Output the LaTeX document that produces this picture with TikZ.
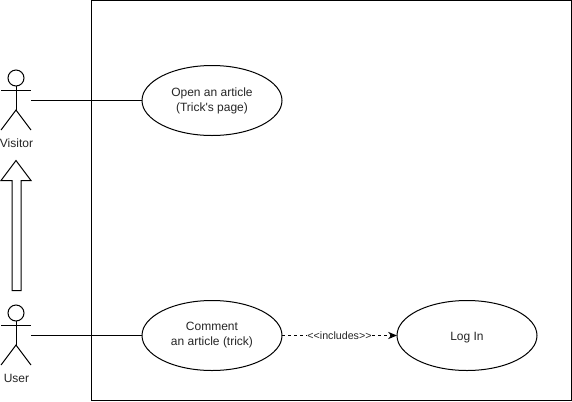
\documentclass[tikz,border=0pt]{standalone}
\usepackage{fontspec}
\newfontfamily\drawfont{Liberation Sans}
\usetikzlibrary{shapes.geometric,arrows.meta}

\tikzset{
  usecase/.style={draw,ellipse,inner sep=0pt,outer sep=0pt,minimum width=105pt,minimum height=52.5pt,align=center,font=\drawfont\fontsize{9}{11.25}\selectfont,text=black!85,execute at begin node={\rule{0pt}{9pt}}},
  actorlabel/.style={inner sep=0pt,font=\drawfont\fontsize{9}{11.25}\selectfont,text=black!85},
  includelabel/.style={fill=white,inner sep=0.5pt,font=\drawfont\fontsize{8}{9}\selectfont,text=black!85},
  actorline/.style={line width=0.75pt},
}

% stick figure, #1 is the middle and #2 the top of the head
\newcommand{\stickman}[2]{
  \draw[actorline] (#1,#2+8) circle (8);
  \draw[actorline] (#1,#2+16) -- (#1,#2+40);
  \draw[actorline] (#1-15,#2+20) -- (#1+15,#2+20);
  \draw[actorline] (#1-15,#2+60) -- (#1,#2+40) -- (#1+15,#2+60);
}

\begin{document}
\begin{tikzpicture}[x=0.75pt,y=-0.75pt,line width=0.75pt]

    % Fix the page to the size of the picture
    \useasboundingbox (0,0) rectangle (572,401);
    \fill[white] (0,0) rectangle (572,401);

    % -- System boundary --
    \draw (91.5,0.5) rectangle (571.5,400.5);

    % -- Actors --
    \stickman{16}{70}
    \stickman{16}{305}
    \node[actorlabel] (visitor) at (16.5,143.5) {Visitor};
    \node[actorlabel] (user) at (16.5,378.5) {User};
    \coordinate (visitorhand) at (31,100.5);
    \coordinate (userhand) at (31,335.5);

    % -- Use cases --
    \node[usecase] (open) at (212,100.5) {Open an article\\(Trick's page)};
    \node[usecase] (comment) at (212,335.5) {Comment\\an article (trick)};
    \node[usecase] (login) at (467,335.5) {Log In};

    % -- Actor connections --
    \draw (visitorhand) -- (open);
    \draw (userhand) -- (comment);

    % -- Generalisation block arrow between the actors --
    \draw[line join=miter] (12,290.5) -- (12,180.5) -- (1,180.5) -- (16,160.5) -- (31,180.5) -- (21,180.5) -- (21,290.5) -- cycle;

    % -- Includes relation --
    \draw[dash pattern=on 2.25pt off 2.25pt,-{Stealth[length=6.75pt,width=5.5pt]}] (comment) -- (login)
      node[midway,includelabel] (includes) {<<includes>>};

\end{tikzpicture}
\end{document}
